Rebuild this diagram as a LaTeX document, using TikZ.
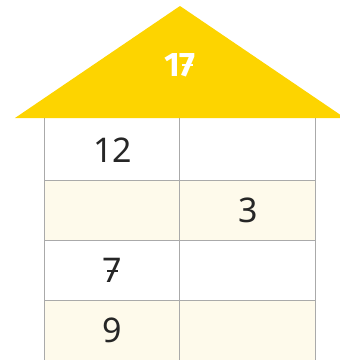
\documentclass[tikz,border=0pt]{standalone}
\usepackage{fontspec}
\setmainfont{Noto Sans}
\newfontfamily\rooffont{Fira Sans}
\definecolor{roofyellow}{HTML}{FDD400}
\definecolor{cream}{HTML}{FEFAEB}
\definecolor{gridgray}{HTML}{AAAAAA}
\newcommand{\barseven}{\ooalign{7\cr\hidewidth\rule[0.3em]{0.32em}{0.065em}\hidewidth\cr}}
\begin{document}
\begin{tikzpicture}[x=1pt,y=1pt,
  cellnum/.style={font=\fontsize{34}{34}\selectfont, text=black!85, inner sep=0pt},
  roofnum/.style={font=\rooffont\bfseries\fontsize{34}{34}\selectfont, text=white, inner sep=0pt},
  gridline/.style={draw=gridgray, line width=1pt}]
\useasboundingbox (0,0) rectangle (340,360);
% rows
\fill[white] (45,180) rectangle (316,242);
\fill[cream] (45,120) rectangle (316,180);
\fill[white] (45,60) rectangle (316,120);
\fill[cream] (45,0) rectangle (316,60);
% grid
\draw[gridline] (45,0) -- (45,242);
\draw[gridline] (180,0) -- (180,242);
\draw[gridline] (316,0) -- (316,242);
\draw[gridline] (45,180) -- (316,180);
\draw[gridline] (45,120) -- (316,120);
\draw[gridline] (45,60) -- (316,60);
% roof
\fill[roofyellow] (15,242) -- (180,354) -- (345,242) -- cycle;
\node[roofnum] (top) at (180,295) {1\barseven};
\node[cellnum] (a) at (112.5,210) {12};
\node[cellnum] (b) at (248,150) {3};
\node[cellnum] (c) at (112.5,90) {\barseven};
\node[cellnum] (d) at (112.5,30) {9};
\end{tikzpicture}
\end{document}
